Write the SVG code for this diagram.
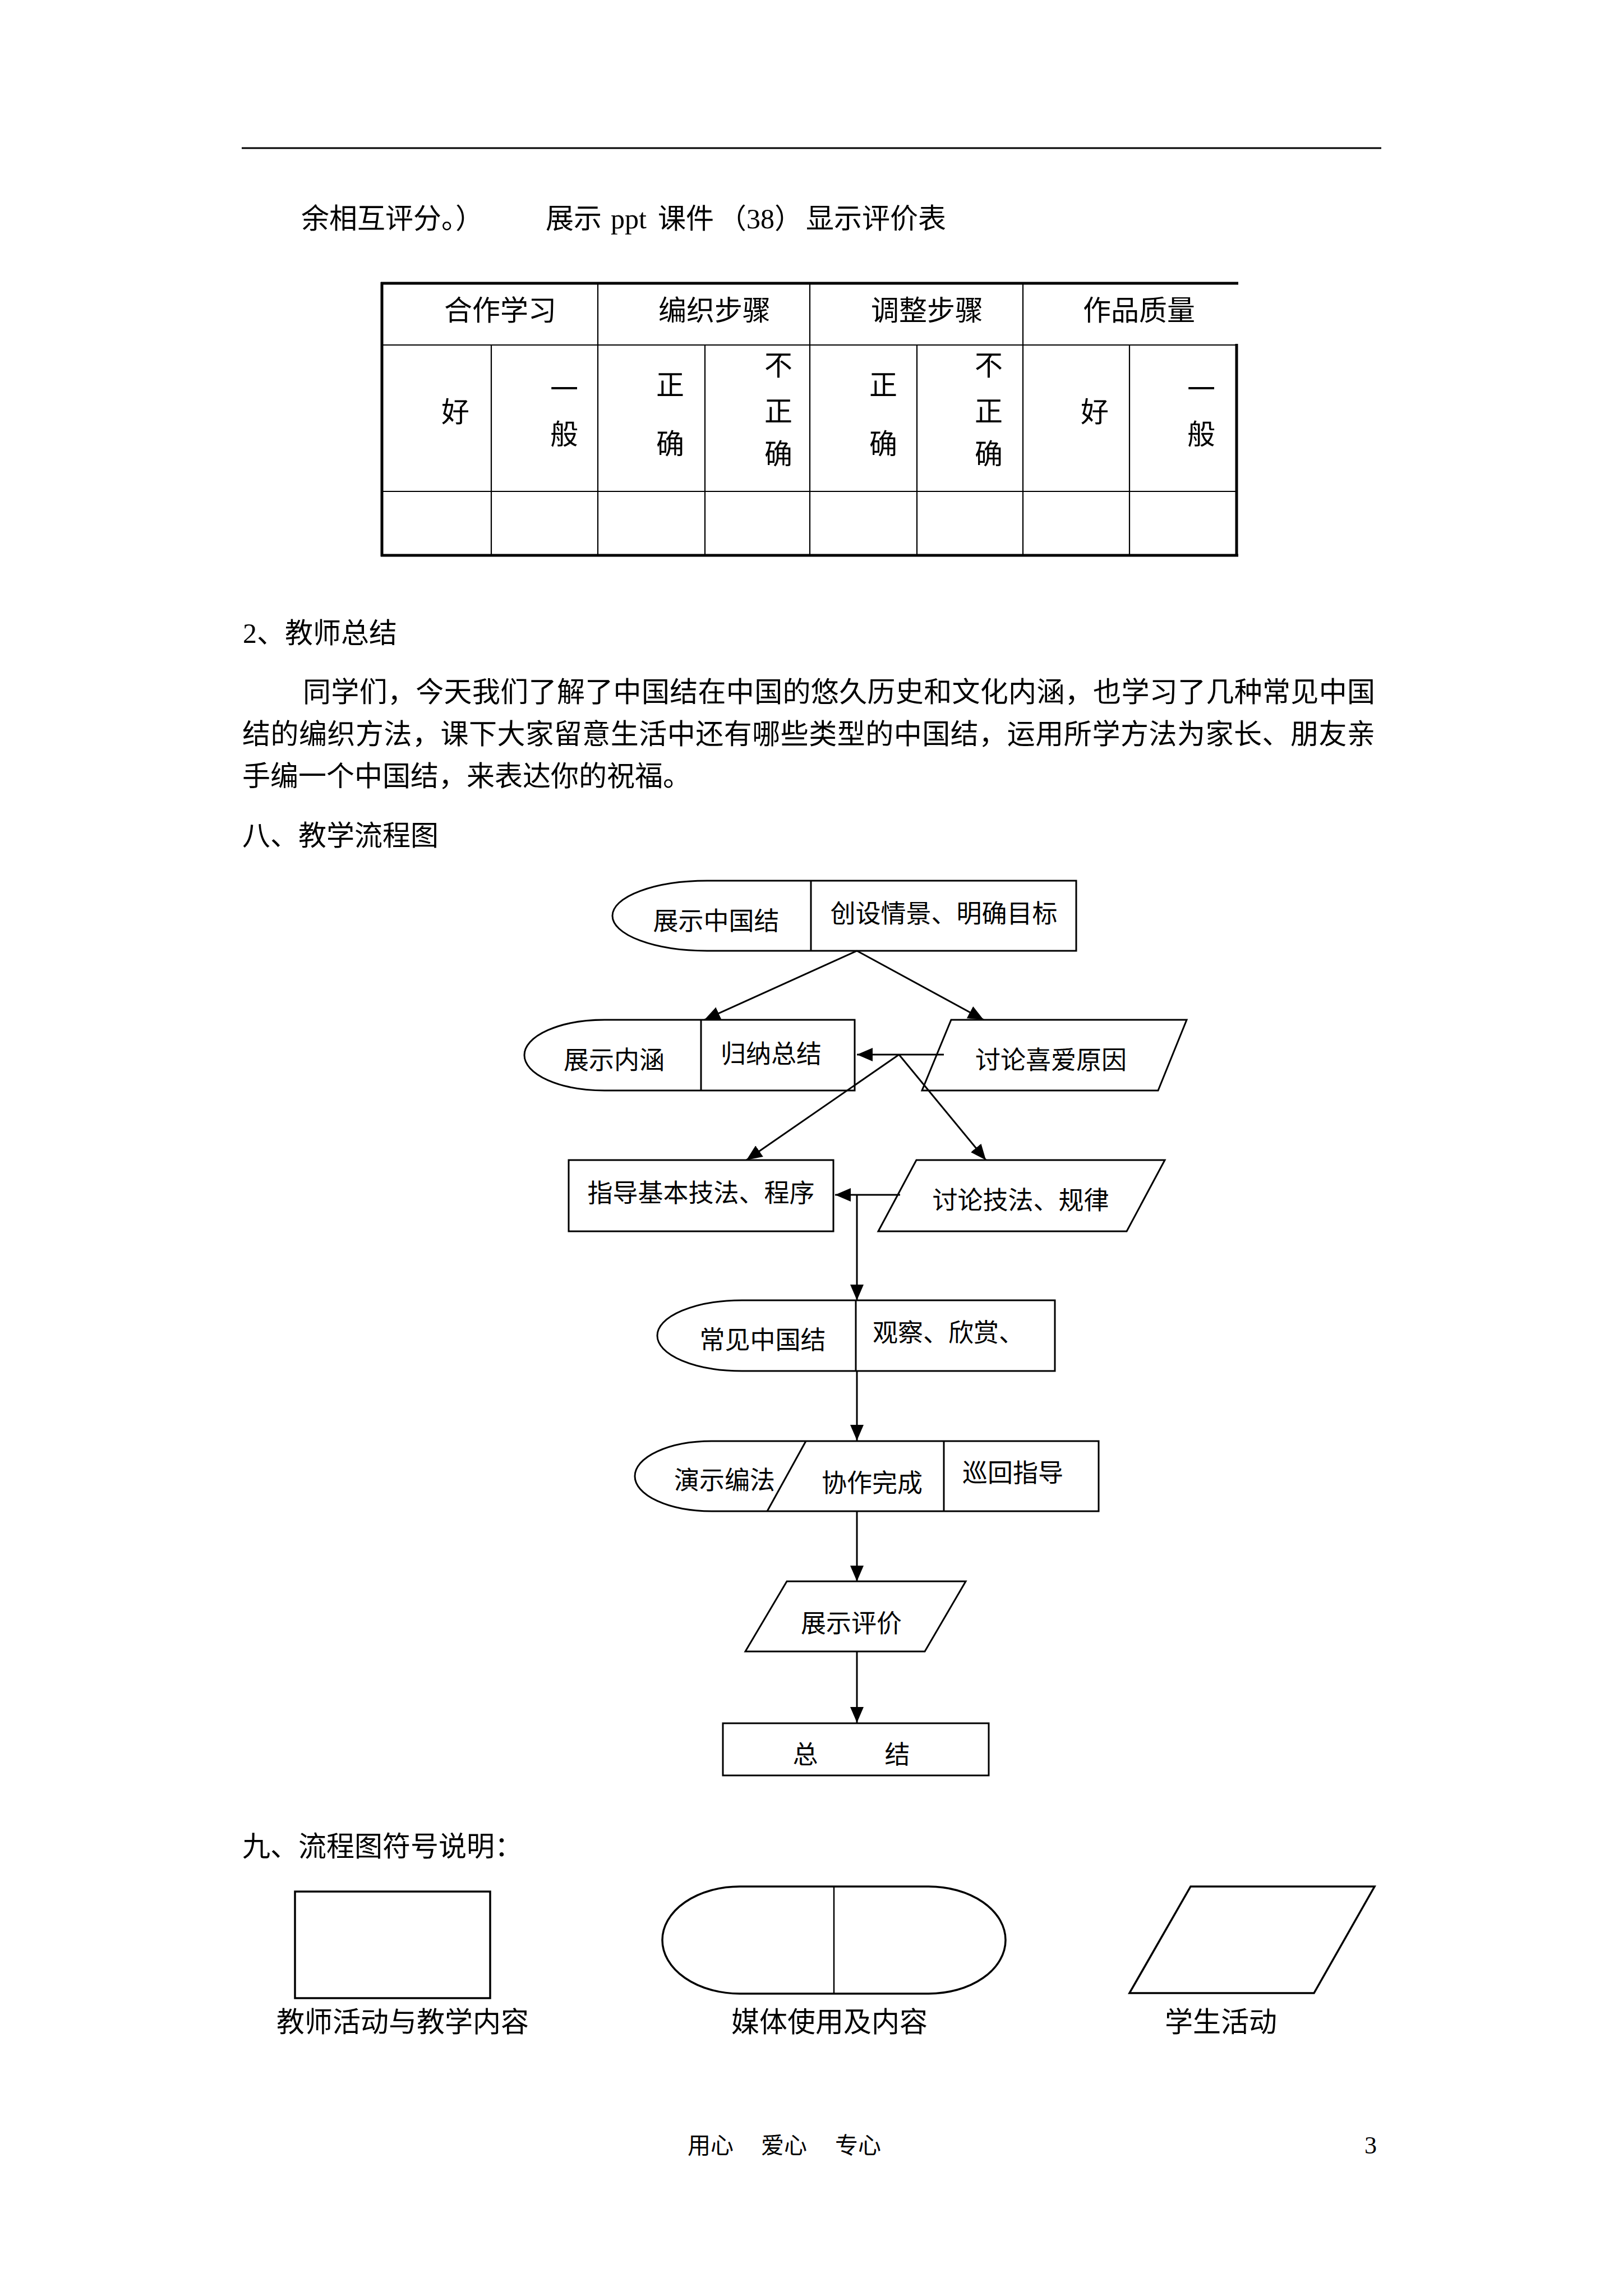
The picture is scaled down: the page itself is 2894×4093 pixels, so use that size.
<svg xmlns="http://www.w3.org/2000/svg" width="2894" height="4093" viewBox="0 0 2894 4093">
<defs>
<style>
.t{font-family:"Liberation Serif","Noto Sans CJK SC",serif;fill:#000}
.b{font-size:50px}
.f{font-size:45px}
.m{text-anchor:middle}
.n{fill:#fff;stroke:#000;stroke-width:3;stroke-linejoin:miter}
.d{fill:none;stroke:#000;stroke-width:3}
.c{fill:none;stroke:#000;stroke-width:3}
.tb{stroke:#000;stroke-width:2.2;fill:none}
.tk{stroke:#000;stroke-width:5;fill:none}
</style>
<marker id="ah" markerUnits="userSpaceOnUse" markerWidth="30" markerHeight="26" refX="28" refY="12" orient="auto">
<path d="M0,0 L28,12 L0,24 Z" fill="#000"/>
</marker>
</defs>
<rect width="2894" height="4093" fill="#fff"/>

<!-- header rule -->
<line x1="431" y1="264" x2="2463" y2="264" stroke="#000" stroke-width="3"/>

<!-- top text -->
<text class="t b" x="537" y="407">余相互评分。）</text>
<text class="t b" x="973" y="407"><tspan>展示</tspan><tspan dx="16">ppt</tspan><tspan dx="20">课件</tspan><tspan dx="8">（38）</tspan><tspan dx="6">显示评价表</tspan></text>

<!-- table -->
<g id="table">
<line class="tk" x1="679" y1="505" x2="2208" y2="505"/>
<line class="tk" x1="681" y1="503" x2="681" y2="992"/>
<line class="tk" x1="2205" y1="613" x2="2205" y2="992"/>
<line class="tk" x1="679" y1="990" x2="2208" y2="990"/>
<line class="tb" x1="681" y1="615" x2="2205" y2="615" stroke-width="3"/>
<line class="tb" x1="681" y1="876" x2="2205" y2="876" stroke-width="2.6"/>
<line class="tb" x1="1066" y1="505" x2="1066" y2="990"/>
<line class="tb" x1="1444" y1="505" x2="1444" y2="990"/>
<line class="tb" x1="1824" y1="505" x2="1824" y2="990"/>
<line class="tb" x1="876" y1="615" x2="876" y2="990"/>
<line class="tb" x1="1257" y1="615" x2="1257" y2="990"/>
<line class="tb" x1="1635" y1="615" x2="1635" y2="990"/>
<line class="tb" x1="2014" y1="615" x2="2014" y2="990"/>
<text class="t b m" x="892" y="571">合作学习</text>
<text class="t b m" x="1274" y="571">编织步骤</text>
<text class="t b m" x="1653" y="571">调整步骤</text>
<text class="t b m" x="2031" y="571">作品质量</text>
<text class="t b m" x="812" y="752">好</text>
<text class="t b m" x="1006" y="712">一</text>
<text class="t b m" x="1006" y="792">般</text>
<text class="t b m" x="1195" y="704">正</text>
<text class="t b m" x="1195" y="809">确</text>
<text class="t b m" x="1388" y="669">不</text>
<text class="t b m" x="1388" y="751">正</text>
<text class="t b m" x="1388" y="827">确</text>
<text class="t b m" x="1575" y="704">正</text>
<text class="t b m" x="1575" y="809">确</text>
<text class="t b m" x="1763" y="669">不</text>
<text class="t b m" x="1763" y="751">正</text>
<text class="t b m" x="1763" y="827">确</text>
<text class="t b m" x="1952" y="752">好</text>
<text class="t b m" x="2142" y="712">一</text>
<text class="t b m" x="2142" y="792">般</text>
</g>

<!-- body text -->
<text class="t b" x="433" y="1146">2、教师总结</text>
<text class="t b" x="540" y="1251" textLength="1912" lengthAdjust="spacing">同学们，今天我们了解了中国结在中国的悠久历史和文化内涵，也学习了几种常见中国</text>
<text class="t b" x="432" y="1326" textLength="2020" lengthAdjust="spacing">结的编织方法，课下大家留意生活中还有哪些类型的中国结，运用所学方法为家长、朋友亲</text>
<text class="t b" x="432" y="1401">手编一个中国结，来表达你的祝福。</text>
<text class="t b" x="432" y="1507">八、教学流程图</text>

<!-- flowchart nodes -->
<g id="n1">
<path class="n" d="M1261,1570 L1919,1570 L1919,1695 L1261,1695 A169,62.5 0 0 1 1261,1570 Z"/>
<line class="d" x1="1446" y1="1570" x2="1446" y2="1695"/>
<text class="t f m" x="1277" y="1658">展示中国结</text>
<text class="t f m" x="1683" y="1645">创设情景、明确目标</text>
</g>
<g id="n2">
<path class="n" d="M1078,1818 L1524,1818 L1524,1944 L1078,1944 A143,63 0 0 1 1078,1818 Z"/>
<line class="d" x1="1250" y1="1818" x2="1250" y2="1944"/>
<text class="t f m" x="1095" y="1906">展示内涵</text>
<text class="t f m" x="1375" y="1895">归纳总结</text>
</g>
<g id="n3">
<path class="n" d="M1696,1818 L2116,1818 L2065,1944 L1644,1944 Z"/>
<text class="t f m" x="1874" y="1906">讨论喜爱原因</text>
</g>
<g id="n4">
<rect class="n" x="1014" y="2068" width="472" height="127"/>
<text class="t f m" x="1250" y="2143">指导基本技法、程序</text>
</g>
<g id="n5">
<path class="n" d="M1634,2068 L2077,2068 L2009,2195 L1566,2195 Z"/>
<text class="t f m" x="1820" y="2156">讨论技法、规律</text>
</g>
<g id="n6">
<path class="n" d="M1323,2318 L1881,2318 L1881,2444 L1323,2444 A151,63 0 0 1 1323,2318 Z"/>
<line class="d" x1="1526" y1="2318" x2="1526" y2="2444"/>
<text class="t f m" x="1360" y="2405">常见中国结</text>
<text class="t f" x="1556" y="2392">观察、欣赏、</text>
</g>
<g id="n7">
<path class="n" d="M1269,2569 L1959,2569 L1959,2694 L1269,2694 A137,62.5 0 0 1 1269,2569 Z"/>
<line class="d" x1="1437" y1="2569" x2="1368" y2="2694"/>
<line class="d" x1="1683" y1="2569" x2="1683" y2="2694"/>
<text class="t f m" x="1292" y="2655">演示编法</text>
<text class="t f m" x="1555" y="2660">协作完成</text>
<text class="t f m" x="1806" y="2642">巡回指导</text>
</g>
<g id="n8">
<path class="n" d="M1403,2819 L1722,2819 L1649,2944 L1329,2944 Z"/>
<text class="t f m" x="1518" y="2910">展示评价</text>
</g>
<g id="n9">
<rect class="n" x="1289" y="3072" width="474" height="93"/>
<text class="t f m" x="1436" y="3144">总</text>
<text class="t f m" x="1600" y="3144">结</text>
</g>

<!-- connectors -->
<g id="connectors">
<line class="c" x1="1528" y1="1695" x2="1256" y2="1818" marker-end="url(#ah)"/>
<line class="c" x1="1528" y1="1695" x2="1754" y2="1818" marker-end="url(#ah)"/>
<line class="c" x1="1683" y1="1880" x2="1528" y2="1880" marker-end="url(#ah)"/>
<line class="c" x1="1603" y1="1880" x2="1331" y2="2068" marker-end="url(#ah)"/>
<line class="c" x1="1603" y1="1880" x2="1758" y2="2068" marker-end="url(#ah)"/>
<line class="c" x1="1605" y1="2130" x2="1489" y2="2130" marker-end="url(#ah)"/>
<line class="c" x1="1528" y1="2130" x2="1528" y2="2318" marker-end="url(#ah)"/>
<line class="c" x1="1528" y1="2444" x2="1528" y2="2568" marker-end="url(#ah)"/>
<line class="c" x1="1528" y1="2694" x2="1528" y2="2819" marker-end="url(#ah)"/>
<line class="c" x1="1528" y1="2944" x2="1528" y2="3071" marker-end="url(#ah)"/>
</g>

<!-- legend -->
<text class="t b" x="432" y="3309">九、流程图符号说明：</text>
<g id="legend-rect">
<rect x="526" y="3372" width="348" height="190" fill="#fff" stroke="#000" stroke-width="3.5"/>
<text class="t b m" x="718" y="3622">教师活动与教学内容</text>
</g>
<g id="legend-media">
<path d="M1319,3363 L1656,3363 A137,95.5 0 0 1 1656,3554 L1319,3554 A138,95.5 0 0 1 1319,3363 Z" fill="#fff" stroke="#000" stroke-width="3.5"/>
<line x1="1487" y1="3363" x2="1487" y2="3554" stroke="#000" stroke-width="2.5"/>
<text class="t b m" x="1479" y="3622">媒体使用及内容</text>
</g>
<g id="legend-student">
<path d="M2123,3363 L2451,3363 L2343,3553 L2014,3553 Z" fill="#fff" stroke="#000" stroke-width="3.5"/>
<text class="t b m" x="2177" y="3622">学生活动</text>
</g>

<!-- footer -->
<text class="t" font-size="41" x="1226" y="3839">用心</text>
<text class="t" font-size="41" x="1357" y="3839">爱心</text>
<text class="t" font-size="41" x="1489" y="3839">专心</text>
<text class="t" font-size="44" x="2433" y="3839">3</text>
</svg>
